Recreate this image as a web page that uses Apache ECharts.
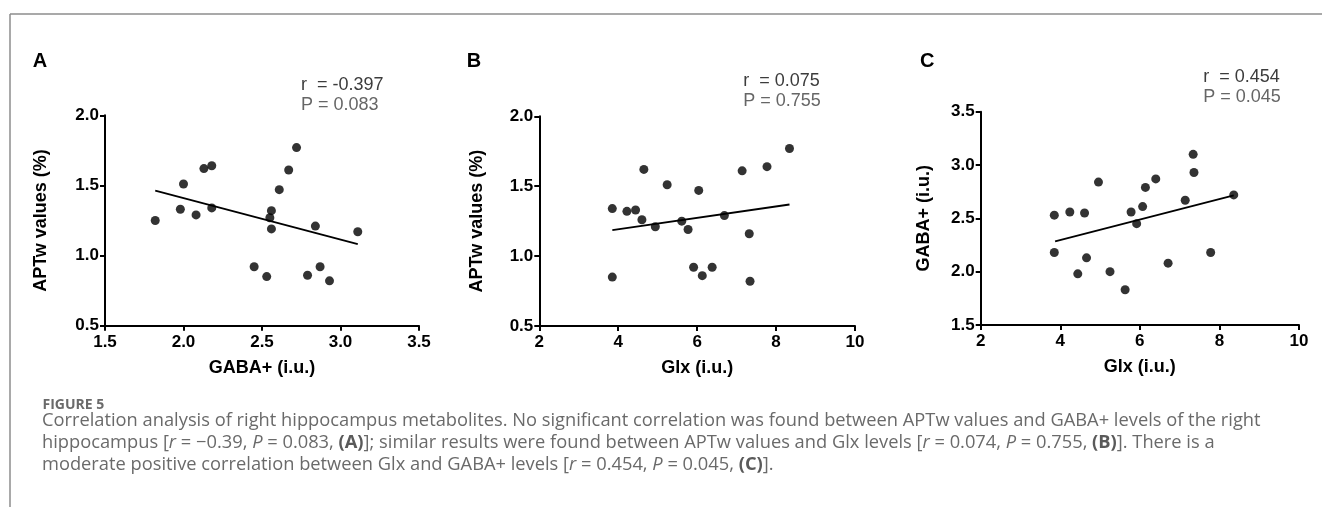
<!DOCTYPE html>
<html>
<head>
<meta charset="utf-8">
<script src="https://cdn.jsdelivr.net/npm/echarts@6/dist/echarts.min.js"></script>
<style>
  html, body { margin: 0; padding: 0; background: #fff; }
  #chart { width: 1322px; height: 507px; }
</style>
</head>
<body>
<div id="chart"></div>
<script>
// Panel A: APTw values vs GABA+
const aGaba = [1.82, 2.00, 1.98, 2.08, 2.13, 2.18, 2.18, 2.45, 2.53, 2.55, 2.56, 2.56, 2.61, 2.67, 2.72, 2.79, 2.84, 2.87, 2.93, 3.11];
const aAptw = [1.25, 1.51, 1.33, 1.29, 1.62, 1.64, 1.34, 0.92, 0.85, 1.27, 1.32, 1.19, 1.47, 1.61, 1.77, 0.86, 1.21, 0.92, 0.82, 1.17];
const aFitX = [1.82, 3.11];
const aFitY = [1.463, 1.081];

// Panel B: APTw values vs Glx
const bGlx = [3.85, 3.85, 4.22, 4.44, 4.60, 4.65, 4.94, 5.24, 5.61, 5.77, 5.91, 6.04, 6.13, 6.38, 6.69, 7.14, 7.32, 7.34, 7.77, 8.34];
const bAptw = [1.34, 0.85, 1.32, 1.33, 1.26, 1.62, 1.21, 1.51, 1.25, 1.19, 0.92, 1.47, 0.86, 0.92, 1.29, 1.61, 1.16, 0.82, 1.64, 1.77];
const bFitX = [3.85, 8.34];
const bFitY = [1.186, 1.369];

// Panel C: GABA+ vs Glx
const cGlx = [3.85, 3.85, 4.24, 4.44, 4.61, 4.66, 4.96, 5.25, 5.63, 5.78, 5.92, 6.07, 6.14, 6.40, 6.71, 7.14, 7.34, 7.36, 7.78, 8.36];
const cGaba = [2.53, 2.18, 2.56, 1.98, 2.55, 2.13, 2.84, 2.00, 1.83, 2.56, 2.45, 2.61, 2.79, 2.87, 2.08, 2.67, 3.10, 2.93, 2.18, 2.72];
const cFitX = [3.87, 8.36];
const cFitY = [2.284, 2.716];

// Correlation statistics
const panelLetters = ['A', 'B', 'C'];
const rTexts = ['r  = -0.397', 'r  = 0.075', 'r  = 0.454'];
const pTexts = ['P = 0.083', 'P = 0.755', 'P = 0.045'];

// Axis titles
const xTitles = ['GABA+ (i.u.)', 'Glx (i.u.)', 'Glx (i.u.)'];
const yTitles = ['APTw values (%)', 'APTw values (%)', 'GABA+ (i.u.)'];

const captionHead = 'FIGURE 5';
const captionLines = [
  'Correlation analysis of right hippocampus metabolites. No significant correlation was found between APTw values and GABA+ levels of the right',
  'hippocampus [{i|r} = \u22120.39, {i|P} = 0.083, {b|(A)}]; similar results were found between APTw values and Glx levels [{i|r} = 0.074, {i|P} = 0.755, {b|(B)}]. There is a',
  'moderate positive correlation between Glx and GABA+ levels [{i|r} = 0.454, {i|P} = 0.045, {b|(C)}].'
];

const zip = (xs, ys) => xs.map((x, i) => [x, ys[i]]);

const FONT = '"Liberation Sans", Arial, sans-serif';
const CAP_FONT = '"Open Sans", "Noto Sans", sans-serif';

// size the caption so its first line spans the text block
const measureCtx = document.createElement('canvas').getContext('2d');
measureCtx.font = '100px ' + CAP_FONT;
const capSize = Math.round(1219 / measureCtx.measureText(captionLines[0]).width * 100 * 10) / 10;

const grids = [
  { left: 105, top: 115.3, width: 314, height: 210.4 },
  { left: 539.3, top: 116.3, width: 315.7, height: 209.7 },
  { left: 980.7, top: 111.7, width: 318.3, height: 213.3 }
];

const xRanges = [[1.5, 3.5, 0.5, 1], [2, 10, 2, 0], [2, 10, 2, 0]];
const yRanges = [[0.5, 2.0, 0.5, 1], [0.5, 2.0, 0.5, 1], [1.5, 3.5, 0.5, 1]];
const yNameGaps = [55, 53, 48];

const axisCommon = {
  axisLine: { show: true, onZero: false, lineStyle: { color: '#000', width: 2 } },
  axisTick: { show: true, inside: false, length: 5, lineStyle: { color: '#000', width: 2 } },
  splitLine: { show: false },
  nameTextStyle: { fontFamily: FONT, fontWeight: 'bold', fontSize: 18, color: '#000' }
};

const xAxes = xRanges.map((r, i) => Object.assign({}, axisCommon, {
  type: 'value', gridIndex: i, min: r[0], max: r[1], interval: r[2],
  name: xTitles[i], nameLocation: 'middle', nameGap: 33,
  axisLabel: {
    margin: 8, fontFamily: FONT, fontWeight: 'bold', fontSize: 17, color: '#000',
    formatter: v => v.toFixed(r[3])
  }
}));

const yAxes = yRanges.map((r, i) => Object.assign({}, axisCommon, {
  type: 'value', gridIndex: i, min: r[0], max: r[1], interval: r[2],
  name: yTitles[i], nameLocation: 'middle', nameGap: yNameGaps[i], nameRotate: 90,
  axisLabel: {
    margin: 6, fontFamily: FONT, fontWeight: 'bold', fontSize: 17, color: '#000',
    formatter: v => v.toFixed(r[3])
  }
}));

const points = [zip(aGaba, aAptw), zip(bGlx, bAptw), zip(cGlx, cGaba)];
const fits = [zip(aFitX, aFitY), zip(bFitX, bFitY), zip(cFitX, cFitY)];

const series = [];
points.forEach((d, i) => {
  series.push({
    type: 'scatter', xAxisIndex: i, yAxisIndex: i, data: d,
    symbol: 'circle', symbolSize: 9, itemStyle: { color: '#000' }, silent: true
  });
  series.push({
    type: 'line', xAxisIndex: i, yAxisIndex: i, data: fits[i],
    showSymbol: false, symbol: 'none', lineStyle: { color: '#000', width: 1.8 }, silent: true
  });
});

// panel letters and statistics positions
const letterX = [32.7, 466.7, 920];
const statX = [301, 743.3, 1203.3];
const statY = [85, 81, 76.7];

const graphics = [];
// outer frame
graphics.push({ type: 'line', shape: { x1: 10, y1: 14, x2: 1322, y2: 14 }, style: { stroke: '#8c8c8c', lineWidth: 1.5 } });
graphics.push({ type: 'line', shape: { x1: 10, y1: 14, x2: 10, y2: 507 }, style: { stroke: '#8c8c8c', lineWidth: 1.5 } });

panelLetters.forEach((t, i) => {
  graphics.push({ type: 'text', x: letterX[i], y: 61.5,
    style: { text: t, font: 'bold 20px ' + FONT, fill: '#000', verticalAlign: 'middle', align: 'left' } });
  graphics.push({ type: 'text', x: statX[i], y: statY[i],
    style: { text: rTexts[i], font: '18px ' + FONT, fill: '#3c3c3c', verticalAlign: 'middle', align: 'left' } });
  graphics.push({ type: 'text', x: statX[i], y: statY[i] + 20.5,
    style: { text: pTexts[i], font: '18px ' + FONT, fill: '#666', verticalAlign: 'middle', align: 'left' } });
});

graphics.push({ type: 'text', x: 42.5, y: 405,
  style: { text: captionHead, font: 'bold 14px ' + CAP_FONT, fill: '#6a6a6a', verticalAlign: 'middle', align: 'left' } });

const capY = [420.5, 442.5, 464.5];
captionLines.forEach((line, i) => {
  graphics.push({ type: 'text', x: 42, y: capY[i],
    style: {
      text: line, fontFamily: CAP_FONT, fontSize: capSize, fill: '#6a6a6a',
      verticalAlign: 'middle', align: 'left',
      rich: {
        i: { fontFamily: CAP_FONT, fontSize: capSize, fontStyle: 'italic', fill: '#6a6a6a' },
        b: { fontFamily: CAP_FONT, fontSize: capSize, fontWeight: 'bold', fill: '#5a5a5a' }
      }
    } });
});

const chart = echarts.init(document.getElementById('chart'), null, { renderer: 'canvas' });
chart.setOption({
  backgroundColor: '#fff',
  animation: false,
  grid: grids,
  xAxis: xAxes,
  yAxis: yAxes,
  series: series,
  graphic: { elements: graphics }
});
</script>
</body>
</html>
